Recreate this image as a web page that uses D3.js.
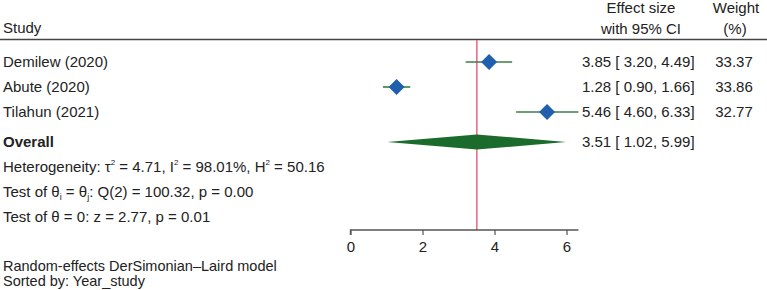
<!DOCTYPE html>
<html><head><meta charset="utf-8">
<script src="https://cdn.jsdelivr.net/npm/d3@7"></script>
<style>body{margin:0;background:#fff}svg{display:block}text{font-family:"Liberation Sans",Arial,sans-serif;fill:#222}</style>
</head><body>
<script>
const studies = ["Demilew (2020)", "Abute (2020)", "Tilahun (2021)"];
const effects = [3.85, 1.28, 5.46];
const lower = [3.20, 0.90, 4.60];
const upper = [4.49, 1.66, 6.33];
const weights = ["33.37", "33.86", "32.77"];
const overall = {label: "Overall", es: 3.51, lo: 1.02, hi: 5.99};
const tickValues = [0, 2, 4, 6];
const statLines = [
  [["Heterogeneity: τ",0],["2",1],[" = 4.71, I",0],["2",1],[" = 98.01%, H",0],["2",1],[" = 50.16",0]],
  [["Test of θ",0],["i",-1],[" = θ",0],["j",-1],[": Q(2) = 100.32, p = 0.00",0]],
  [["Test of θ = 0: z = 2.77, p = 0.01",0]]
];
const notes = ["Random-effects DerSimonian–Laird model", "Sorted by: Year_study"];

const W = 767, H = 290, FS = 15;
const svg = d3.select("body").append("svg").attr("width", W).attr("height", H);

const x = d3.scaleLinear().domain([0, 6.33]).range([350.5, 578.4]);
const y = d3.scaleLinear().domain([0, 1]).range([62, 87]);
const axisY = 230;
const fmt = d3.format(".2f");
const ciText = (e, l, h) => `${fmt(e)} [${l < 10 ? " " : ""}${fmt(l)}, ${h < 10 ? " " : ""}${fmt(h)}]`;
const BASE = 5.3; // vertical centring offset for 15px text

// headers
svg.append("text").attr("x", 3).attr("y", 28 + BASE).attr("font-size", FS).text("Study");
svg.append("text").attr("x", 641).attr("y", 7.5 + BASE).attr("text-anchor", "middle").attr("font-size", FS).text("Effect size");
svg.append("text").attr("x", 641).attr("y", 28.5 + BASE).attr("text-anchor", "middle").attr("font-size", FS).text("with 95% CI");
svg.append("text").attr("x", 736).attr("y", 7.5 + BASE).attr("text-anchor", "middle").attr("font-size", FS).text("Weight");
svg.append("text").attr("x", 735).attr("y", 28.5 + BASE).attr("text-anchor", "middle").attr("font-size", FS).text("(%)");
svg.append("line").attr("x1", 0).attr("x2", W).attr("y1", 39.5).attr("y2", 39.5).attr("stroke", "#444").attr("stroke-width", 1.5);

// reference line at overall
svg.append("line").attr("x1", x(overall.es)).attr("x2", x(overall.es)).attr("y1", 40).attr("y2", axisY)
  .attr("stroke", "#e0506e").attr("stroke-width", 1.3);

// study rows
const rows = studies.map((s, i) => ({s, e: effects[i], l: lower[i], h: upper[i], w: weights[i], i}));
const g = svg.append("g");
rows.forEach(d => {
  const yy = y(d.i);
  g.append("text").attr("x", 3).attr("y", yy + BASE).attr("font-size", FS).text(d.s);
  g.append("line").attr("x1", x(d.l)).attr("x2", x(d.h)).attr("y1", yy).attr("y2", yy).attr("stroke", "#3b7d45").attr("stroke-width", 1.6);
  const cx = x(d.e), r = 8;
  g.append("path").attr("d", `M${cx - r},${yy}L${cx},${yy - r}L${cx + r},${yy}L${cx},${yy + r}Z`).attr("fill", "#1f5fae");
  g.append("text").attr("x", 582).attr("y", yy + BASE).attr("font-size", FS).text(ciText(d.e, d.l, d.h));
  g.append("text").attr("x", 734).attr("y", yy + BASE).attr("text-anchor", "middle").attr("font-size", FS).text(d.w);
});

// overall
const oy = y(3.2);
svg.append("text").attr("x", 3).attr("y", oy + BASE).attr("font-size", FS).attr("font-weight", "bold").text(overall.label);
svg.append("path").attr("d", `M${x(overall.lo)},${oy}L${x(overall.es)},${oy - 7.5}L${x(overall.hi)},${oy}L${x(overall.es)},${oy + 7.5}Z`).attr("fill", "#1a6b2c");
svg.append("text").attr("x", 582).attr("y", oy + BASE).attr("font-size", FS).text(ciText(overall.es, overall.lo, overall.hi));

// stats lines
statLines.forEach((parts, k) => {
  const t = svg.append("text").attr("x", 3).attr("y", y(4.2 + k) + BASE).attr("font-size", FS);
  let prev = 0;
  parts.forEach(([txt, sh]) => {
    const target = sh === 1 ? -7 : sh === -1 ? 3 : 0;
    const ts = t.append("tspan").text(txt).attr("dy", target - prev);
    if (sh === 1) ts.attr("font-size", 8);
    else if (sh === -1) ts.attr("font-size", 9);
    prev = target;
  });
});

// axis
const axis = d3.axisBottom(x).tickValues(tickValues).tickSize(5).tickSizeOuter(0).tickFormat(d3.format("d"));
const ag = svg.append("g").attr("transform", `translate(0,${axisY})`).call(axis);
ag.select(".domain").attr("stroke", "#555").attr("stroke-width", 1.4).attr("d", `M${x(0)},5V0H${x(6.33)}`);
ag.selectAll(".tick line").attr("stroke", "#555").attr("stroke-width", 1.2);
ag.selectAll(".tick text").attr("font-size", FS).attr("font-family", "Liberation Sans, Arial, sans-serif").attr("fill", "#222").attr("y", 11);

// notes
notes.forEach((n, k) => {
  svg.append("text").attr("x", 3).attr("y", 266 + k * 15 + 5).attr("font-size", 14.5).text(n);
});
</script>
</body></html>
